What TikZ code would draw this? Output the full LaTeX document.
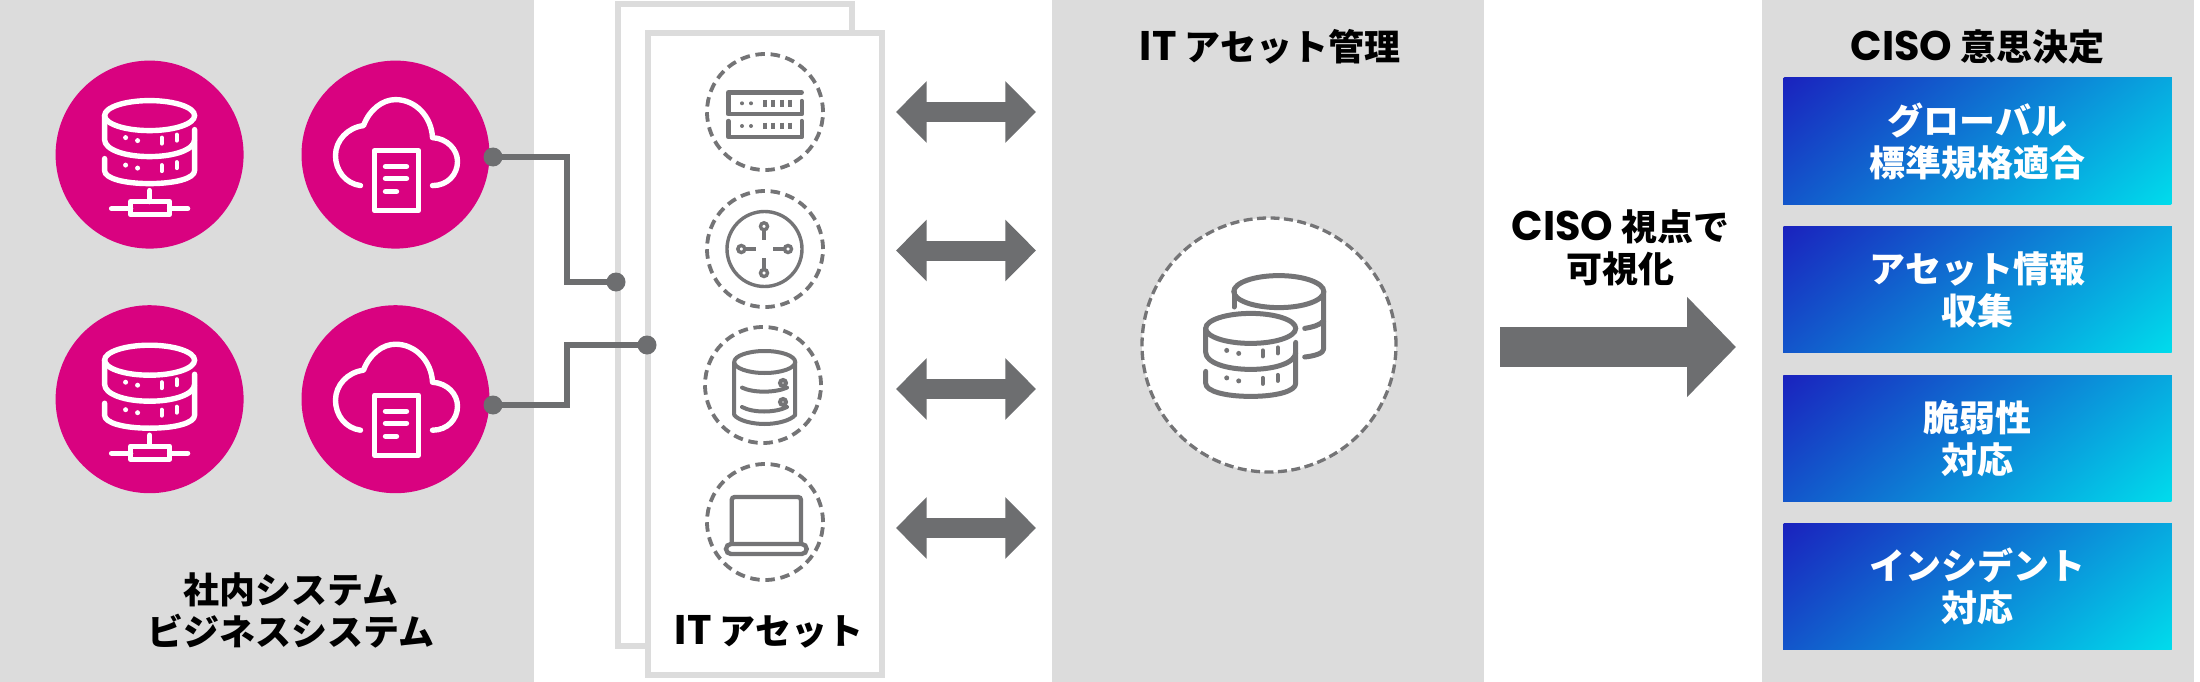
\documentclass[tikz,border=0pt]{standalone}
\usepackage{fontspec}
\setmainfont{Noto Sans CJK JP}
\newfontfamily\latinfont[Scale=1.15]{Poppins}
\usetikzlibrary{arrows.meta}
\definecolor{panelgray}{HTML}{DCDCDC}
\definecolor{hotpink}{HTML}{D90280}
\definecolor{wiregray}{HTML}{6D6E70}
\definecolor{icongray}{HTML}{747476}
\definecolor{deepblue}{HTML}{1A22BE}
\definecolor{lightcyan}{HTML}{00DCEC}
\newcommand{\lat}[1]{{\latinfont #1}}
\tikzset{
  panel/.style={fill=panelgray},
  label/.style={font=\bfseries\fontsize{36}{42}\selectfont,align=center,inner sep=0pt},
  hotdisc/.style={circle,fill=hotpink,minimum size=188pt,inner sep=0pt},
  joint/.style={circle,fill=wiregray,minimum size=19pt,inner sep=0pt},
  wire/.style={draw=wiregray,line width=5.6pt},
  sheet/.style={draw=panelgray,fill=white,line width=5.7pt},
  dashdisc/.style={circle,draw=icongray,line width=3.8pt,dash pattern=on 9.5pt off 5.7pt,inner sep=0pt},
  twoway/.style={draw=wiregray,line width=20pt,{Triangle[length=30.7pt,width=60pt]}-{Triangle[length=30.7pt,width=60pt]}},
  oneway/.style={draw=wiregray,line width=39.4pt,-{Triangle[length=49pt,width=97.4pt]}},
  cisobox/.style={label,text=white,minimum width=388.7pt,minimum height=126pt,
    path picture={\shade[transform canvas={rotate around={40:(path picture bounding box.center)}},
      top color=deepblue,bottom color=lightcyan] (path picture bounding box.center) ++(-300,-173) rectangle ++(600,346);}},
  pics/dbbody/.style={code={
    \draw (0,-39) ellipse [x radius=45,y radius=15];
    \draw[line cap=round,line join=round] (-45,-39) -- (-45,-15) .. controls (-45,-5) and (-25,2) .. (0,2)
      .. controls (25,2) and (45,-5) .. (45,-15) -- (45,-25);
    \draw[line cap=round,line join=round] (-45,4) -- (-45,16) .. controls (-45,24) and (-25,29) .. (0,29)
      .. controls (25,29) and (45,24) .. (45,16) -- (45,-14);
    \fill (-24,-17) circle (2.5);
    \fill (-12,-14) circle (2.5);
    \fill (-24,10.5) circle (2.5);
    \fill (-12,13.5) circle (2.5);
    \draw[line width=4pt,line cap=round] (12,-17) -- (12,-11);
    \draw[line width=4pt,line cap=round] (27,-20) -- (27,-14);
    \draw[line width=4pt,line cap=round] (12,10.5) -- (12,16.5);
    \draw[line width=4pt,line cap=round] (27,7.5) -- (27,13.5);
  }},
  pics/dbnet/.style={code={
    \pic {dbbody};
    \draw[line cap=round] (0,36) -- (0,47);
    \draw[line join=round] (-19,47) rectangle (20,60);
    \draw[line cap=round] (-38,54) -- (-19,54);
    \draw[line cap=round] (20,54) -- (38,54);
  }},
  pics/clouddoc/.style={code={
    \draw[line cap=round,line join=round] (-35,31) .. controls (-50,29) and (-60,16) .. (-60,1)
      .. controls (-60,-14) and (-48,-27) .. (-32,-29) .. controls (-26,-45) and (-13,-55) .. (0,-55)
      .. controls (20,-55) and (36,-38) .. (37,-17) .. controls (52,-16) and (62,-5) .. (62,7)
      .. controls (62,20) and (52,31) .. (37,31);
    \draw[line join=round] (-21,-4) rectangle (23,56);
    \draw[line cap=round] (-10,12) -- (11,12);
    \draw[line cap=round] (-10,24) -- (11,24);
    \draw[line cap=round] (-10,37) -- (1,37);
  }},
  pics/rackicon/.style={code={
    \draw[line join=round,line cap=round] (36.7,-19.6) -- (-36.7,-19.6) -- (-36.7,2.2) -- (36.7,2.2) -- (36.7,-11);
    \draw[line join=round,line cap=round] (-36.7,9) -- (-36.7,25) -- (36.7,25) -- (36.7,9);
    \fill (-23,-8.7) circle (2);
    \fill (-14,-8.7) circle (2);
    \fill (-23,14) circle (2);
    \fill (-14,14) circle (2);
    \draw[line width=3.2pt] (0,-12) -- (0,-5.4);
    \draw[line width=3.2pt] (8,-12) -- (8,-5.4);
    \draw[line width=3.2pt] (17,-12) -- (17,-5.4);
    \draw[line width=3.2pt] (25,-12) -- (25,-5.4);
    \draw[line width=3.2pt] (0,10.7) -- (0,17.3);
    \draw[line width=3.2pt] (8,10.7) -- (8,17.3);
    \draw[line width=3.2pt] (17,10.7) -- (17,17.3);
    \draw[line width=3.2pt] (25,10.7) -- (25,17.3);
  }},
  pics/routericon/.style={code={
    \draw (-0.5,0) circle (37.5);
    \draw (-1,-22.7) circle (3.5);
    \draw (-1,-19) -- (-1,-8.7);
    \draw (-1,24) circle (3.5);
    \draw (-1,20) -- (-1,8.7);
    \draw (-23.7,0) circle (3.5);
    \draw (-20,0) -- (-9,0);
    \draw (23,0) circle (3.5);
    \draw (19.5,0) -- (8.3,0);
  }},
  pics/storeicon/.style={code={
    \draw (1.7,-23) ellipse [x radius=30.5,y radius=11];
    \draw[line join=round] (-28.8,-23) -- (-28.8,30) .. controls (-24,36) and (-10,39) .. (1.7,39)
      .. controls (13,39) and (27,36) .. (32.2,30) -- (32.2,-23);
    \draw[line cap=round] (-21,2.6) .. controls (-10,8) and (12,8) .. (24,2.6);
    \draw[line cap=round] (-21,22) .. controls (-10,28) and (12,28) .. (24,22);
    \draw (20,-2) circle (3);
    \draw (20,17) circle (3);
  }},
  pics/laptopicon/.style={code={
    \draw[rounded corners=3pt] (-33.3,22) -- (-33.3,-25) -- (36,-25) -- (36,22);
    \draw[rounded corners=5pt] (-39,22) -- (41.7,22) -- (41.7,32) -- (-39,32) -- cycle;
  }},
  pics/backdb/.style={code={
    \draw (9.8,-53.4) ellipse [x radius=45,y radius=16];
    \draw[line cap=round] (-35,-53) -- (-35,-38);
    \draw[line cap=round,line join=round] (54.5,-53) -- (54.5,4.4) .. controls (54.5,8) and (46,11) .. (35.7,12);
    \draw[line cap=round] (35.7,-16.6) .. controls (44,-18) and (51,-20) .. (54.5,-24);
  }},
}
\begin{document}
\begin{tikzpicture}[x=1pt,y=-1pt]
  \useasboundingbox (0,0) rectangle (2200,682);
  \fill[white] (0,0) rectangle (2200,682);

  \fill[panel] (0,0) rectangle (534,682);
  \fill[panel] (1052,0) rectangle (1484,682);
  \fill[panel] (1762,0) rectangle (2194,682);

  \node[hotdisc] (dbone) at (149.6,154.6) {};
  \node[hotdisc] (cloudone) at (395.5,154.6) {};
  \node[hotdisc] (dbtwo) at (149.6,399.2) {};
  \node[hotdisc] (cloudtwo) at (395.5,399.2) {};
  \pic[color=white,line width=5.4pt] at (dbone) {dbnet};
  \pic[color=white,line width=5.4pt] at (cloudone) {clouddoc};
  \pic[color=white,line width=5.4pt] at (dbtwo) {dbnet};
  \pic[color=white,line width=5.4pt] at (cloudtwo) {clouddoc};
  \node[label] (systems) at (291,610) {社内システム\\ビジネスシステム};

  \draw[sheet] (618,4) rectangle (852,646);
  \draw[sheet] (648,33) rectangle (882,675);

  \node[joint] (cloudjoint) at (493,157) {};
  \node[joint] (backjoint) at (616,282) {};
  \coordinate (upperbend) at (567,157);
  \coordinate (upperfoot) at (567,282);
  \draw[wire] (cloudjoint.center) -- (upperbend) -- (upperfoot) -- (backjoint.center);
  \node[joint] (cloudjointb) at (493,405) {};
  \node[joint] (frontjoint) at (647,345) {};
  \coordinate (lowerbend) at (567,405);
  \coordinate (lowerfoot) at (567,345);
  \draw[wire] (cloudjointb.center) -- (lowerbend) -- (lowerfoot) -- (frontjoint.center);

  \node[dashdisc,minimum size=116pt] (rack) at (765,112) {};
  \node[dashdisc,minimum size=116pt] (router) at (765,249) {};
  \node[dashdisc,minimum size=116pt] (store) at (763,385) {};
  \node[dashdisc,minimum size=116pt] (laptop) at (765,522) {};
  \pic[color=icongray,line width=4.4pt] at (rack) {rackicon};
  \pic[color=icongray,line width=3.4pt] at (router) {routericon};
  \pic[color=icongray,line width=4pt] at (store) {storeicon};
  \pic[color=icongray,line width=4.4pt] at (laptop) {laptopicon};
  \node[label] (assets) at (769,632) {\lat{IT} アセット};

  \coordinate (lefta) at (896,112);
  \coordinate (righta) at (1036,112);
  \draw[twoway] (lefta) -- (righta);
  \coordinate (leftb) at (896,250.5);
  \coordinate (rightb) at (1036,250.5);
  \draw[twoway] (leftb) -- (rightb);
  \coordinate (leftc) at (896,389);
  \coordinate (rightc) at (1036,389);
  \draw[twoway] (leftc) -- (rightc);
  \coordinate (leftd) at (896,528);
  \coordinate (rightd) at (1036,528);
  \draw[twoway] (leftd) -- (rightd);

  \node[label] (mgmt) at (1270,47) {\lat{IT} アセット管理};
  \node[dashdisc,fill=white,line width=3.3pt,dash pattern=on 9pt off 4.5pt,minimum size=254pt] (mgmtdisc) at (1269,345) {};
  \pic[color=icongray,line width=5pt] at (mgmtdisc) {backdb};
  \pic[color=icongray,line width=5pt] at (1250.7,367.4) {dbbody};

  \node[label] (view) at (1620.5,248) {\lat{CISO} 視点で\\可視化};
  \coordinate (viewstart) at (1500,347);
  \coordinate (viewend) at (1736,347);
  \draw[oneway] (viewstart) -- (viewend);

  \node[label] (ciso) at (1977.7,47) {\lat{CISO} 意思決定};
  \node[cisobox] (global) at (1977.5,141) {グローバル\\標準規格適合};
  \node[cisobox] (collect) at (1977.5,289.6) {アセット情報\\収集};
  \node[cisobox] (vuln) at (1977.5,438.3) {脆弱性\\対応};
  \node[cisobox] (incident) at (1977.5,586.8) {インシデント\\対応};
\end{tikzpicture}
\end{document}
